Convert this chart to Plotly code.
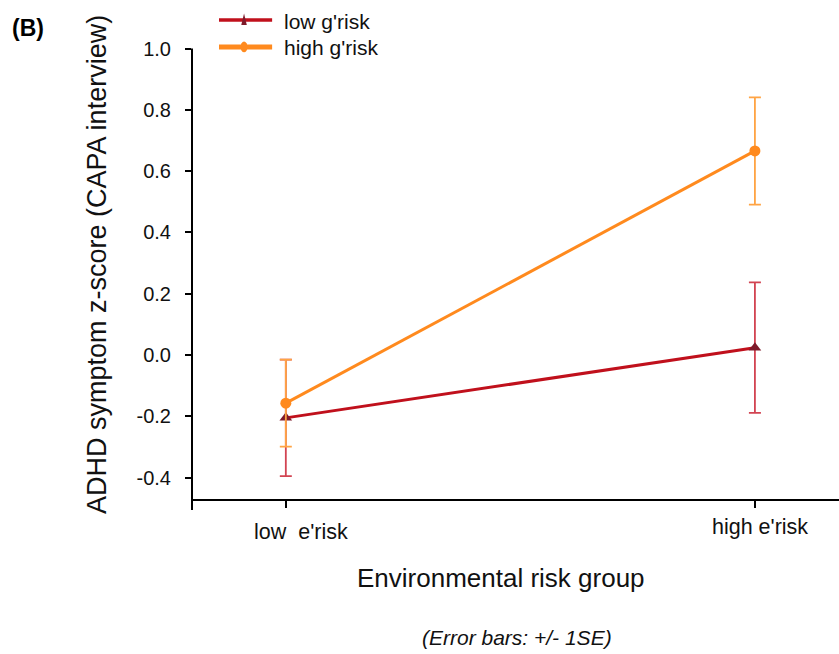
import plotly.graph_objects as go

# Group means and standard errors of ADHD symptom z-scores
env_groups = ["low\u00a0 e'risk", "high e'risk"]
low_g_mean = [-0.205, 0.024]
low_g_se = [0.190, 0.213]
high_g_mean = [-0.157, 0.666]
high_g_se = [0.142, 0.175]
y_ticks = [-0.4, -0.2, 0.0, 0.2, 0.4, 0.6, 0.8, 1.0]
y_tick_text = ["-0.4", "-0.2", "0.0", "0.2", "0.4", "0.6", "0.8", "1.0"]

FONT = "Liberation Sans, Arial, Helvetica, sans-serif"
RED = "#C0101C"
RED_MARK = "#7E1A2A"
RED_ERR = "#D24452"
ORANGE = "#FF8A1E"
ORANGE_ERR = "#FFA444"

x_pos = list(range(len(env_groups)))

fig = go.Figure()

fig.add_trace(go.Scatter(
    x=x_pos, y=low_g_mean, mode="lines+markers", name="low g'risk",
    line=dict(color=RED, width=3),
    marker=dict(symbol="triangle-up", size=11, color=RED_MARK),
    error_y=dict(type="data", array=low_g_se, color=RED_ERR, thickness=1.8, width=6),
    showlegend=False,
))
fig.add_trace(go.Scatter(
    x=x_pos, y=high_g_mean, mode="lines+markers", name="high g'risk",
    line=dict(color=ORANGE, width=3),
    marker=dict(symbol="circle", size=11, color=ORANGE),
    error_y=dict(type="data", array=high_g_se, color=ORANGE_ERR, thickness=1.8, width=6),
    showlegend=False,
))

shapes = [
    # y axis line
    dict(type="line", xref="paper", yref="paper", x0=0, x1=0, y0=-0.022, y1=(1.0 + 0.473) / 1.501,
         line=dict(color="black", width=2)),
    # x axis line
    dict(type="line", xref="paper", yref="paper", x0=0, x1=1.07, y0=0, y1=0,
         line=dict(color="black", width=2)),
    # legend samples
    dict(type="line", xref="paper", yref="paper", x0=0.0445, x1=0.132, y0=1.0435, y1=1.0435,
         line=dict(color=RED, width=3.5)),
    dict(type="line", xref="paper", yref="paper", x0=0.0445, x1=0.132, y0=0.985, y1=0.985,
         line=dict(color=ORANGE, width=5)),
    dict(type="path", xref="paper", yref="paper",
         path="M 0.0812 1.0325 L 0.0903 1.0325 L 0.08575 1.0575 Z",
         fillcolor=RED_MARK, line=dict(width=0)),
    dict(type="circle", xref="paper", yref="paper", x0=0.0800, x1=0.0915, y0=0.9735, y1=0.9965,
         fillcolor=ORANGE, line=dict(width=0)),
]

# category labels under the x ticks, each nudged as set in the original layout
label_offsets = [(15, -0.0696), (5, -0.0587)]
annotations = [
    dict(text=lab, xref="x", yref="paper", x=xp, y=ly, xshift=dx,
         xanchor="center", yanchor="middle", showarrow=False,
         font=dict(size=21.5, color="#111", family=FONT))
    for lab, xp, (dx, ly) in zip(env_groups, x_pos, label_offsets)
]

annotations += [
    dict(text="<b>(B)</b>", xref="paper", yref="paper", x=-0.27, y=1.026,
         xanchor="center", yanchor="middle",
         showarrow=False, font=dict(size=23, color="black", family=FONT)),
    dict(text="low g'risk", xref="paper", yref="paper", x=0.148, y=1.041,
         xanchor="left", yanchor="middle",
         showarrow=False, font=dict(size=21, color="#111", family=FONT)),
    dict(text="high g'risk", xref="paper", yref="paper", x=0.148, y=0.983,
         xanchor="left", yanchor="middle",
         showarrow=False, font=dict(size=21, color="#111", family=FONT)),
    dict(text="ADHD symptom z-score (CAPA interview)", xref="paper", yref="paper",
         x=-0.1565, y=0.511, xanchor="center", yanchor="middle", textangle=-90,
         showarrow=False, font=dict(size=27, color="#111", family=FONT)),
    dict(text="Environmental risk group", xref="paper", yref="paper", x=0.509, y=-0.17,
         xanchor="center", yanchor="middle",
         showarrow=False, font=dict(size=26, color="#111", family=FONT)),
    dict(text="<i>(Error bars: +/- 1SE)</i>", xref="paper", yref="paper", x=0.535, y=-0.298,
         xanchor="center", yanchor="middle",
         showarrow=False, font=dict(size=21, color="#111", family=FONT)),
]

fig.update_layout(
    width=839, height=654,
    margin=dict(l=192, r=40, t=40, b=154),
    paper_bgcolor="white", plot_bgcolor="white",
    font=dict(family=FONT, color="#111"),
    shapes=shapes, annotations=annotations,
    xaxis=dict(
        range=[-0.2, 1.094], tickvals=x_pos, showticklabels=False,
        showgrid=False, zeroline=False, showline=False,
        ticks="outside", ticklen=7, tickwidth=2, tickcolor="black",
    ),
    yaxis=dict(
        range=[-0.473, 1.028], tickvals=y_ticks, ticktext=y_tick_text,
        showgrid=False, zeroline=False, showline=False,
        ticks="outside", ticklen=6, tickwidth=1.5, tickcolor="black",
        tickfont=dict(size=20, family=FONT, color="#111"), ticklabelstandoff=10,
    ),
)

fig.write_html("out.html")
